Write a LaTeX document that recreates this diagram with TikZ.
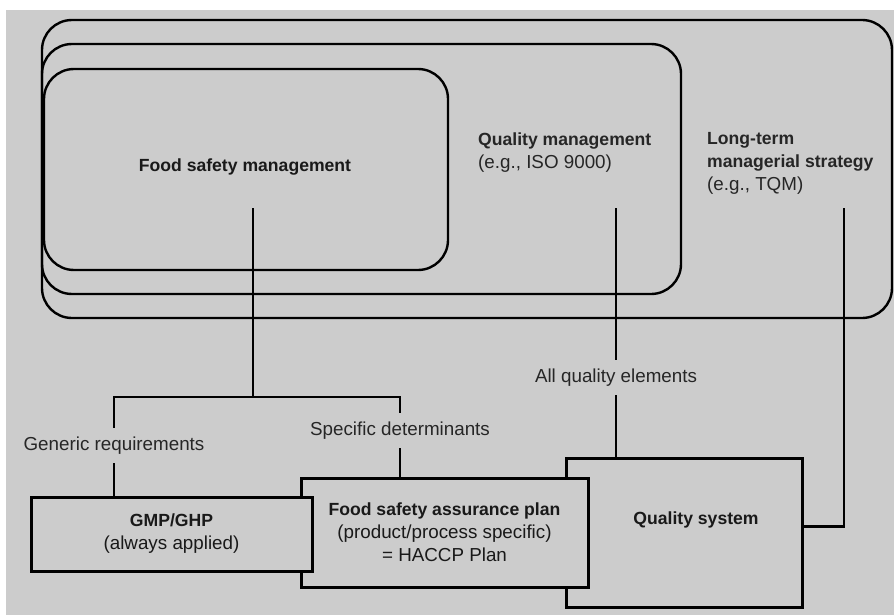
\documentclass[tikz,border=0pt]{standalone}
\usepackage{fontspec}
\setmainfont{Liberation Sans}
\usepackage{tikz}

\definecolor{panelgray}{RGB}{204,204,204}
\newcommand{\lblfont}{\fontsize{18.8}{23}\selectfont}
\newcommand{\headfont}{\fontsize{17.6}{23}\selectfont\bfseries}

\tikzset{
  frame/.style={line width=2.4pt,rounded corners=30pt},
  link/.style={line width=2.6pt},
  heading/.style={font=\headfont,text=black!90,inner sep=0pt},
  lbl/.style={font=\lblfont,text=black!85,inner xsep=2pt,inner ysep=0pt,minimum height=35pt},
  boxed/.style={draw,line width=3pt,fill=panelgray,inner sep=0pt,align=center,font=\lblfont,text=black!90}
}

\begin{document}
\begin{tikzpicture}[x=1pt,y=-1pt]
\useasboundingbox (0,0) rectangle (894,615);
\fill[panelgray] (6,10) rectangle (894,615);

\draw[frame] (42,20) rectangle (892,318);
\draw[frame] (42,44) rectangle (681,294);
\draw[frame] (44,69) rectangle (448,270);

\node[heading] (fsm) at (245,167) {Food safety management};
\node[lbl,align=left,anchor=west,minimum height=0pt] (qm) at (476,153) {{\headfont Quality management}\\(e.g., ISO 9000)};
\node[lbl,align=left,anchor=west,minimum height=0pt] (ltm) at (705,163) {{\headfont Long-term}\\{\headfont managerial strategy}\\(e.g., TQM)};

\coordinate (fsmfoot) at (253,208);
\coordinate (fork) at (253,397);
\coordinate (qmfoot) at (616,208);
\coordinate (ltmfoot) at (844,208);

\node[lbl] (gen) at (114,445.5) {Generic requirements};
\node[lbl] (spec) at (400,430.5) {Specific determinants};
\node[lbl] (allq) at (616,377.5) {All quality elements};

\node[boxed,minimum width=236pt,minimum height=149pt] (qsys) at (684,532.5) {};
\node[heading] (qstext) at (696,520) {Quality system};
\node[boxed,minimum width=287pt,minimum height=109pt] (fsap) at (444.5,532.5) {{\headfont Food safety assurance plan}\\(product/process specific)\\= HACCP Plan};
\node[boxed,minimum width=281pt,minimum height=74pt] (gmp) at (171.5,534) {{\headfont GMP/GHP}\\(always applied)};

\draw[link] (fsmfoot) -- (fork);
\draw[link] (gen.north) |- (fork) -| (spec.north);
\draw[link] (gen.south) -- (gen.south |- gmp.north);
\draw[link] (spec.south) -- (spec.south |- fsap.north);
\draw[link] (qmfoot) -- (allq.north);
\draw[link] (allq.south) -- (allq.south |- qsys.north);
\draw[link] ([yshift=6pt]qsys.east) -| (ltmfoot);
\end{tikzpicture}
\end{document}
